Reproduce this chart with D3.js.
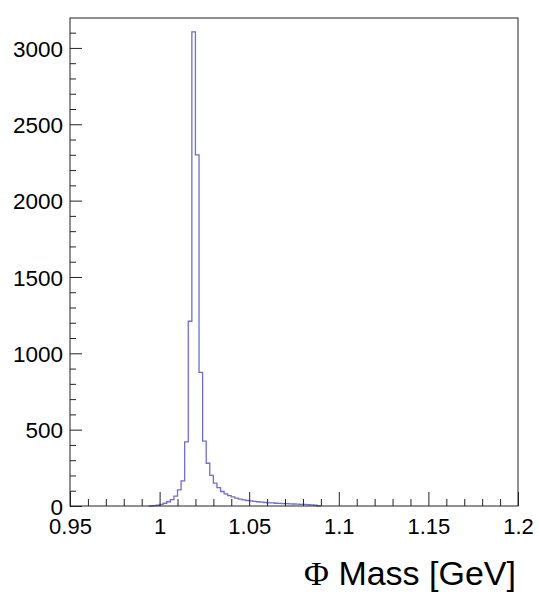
<!DOCTYPE html>
<html><head><meta charset="utf-8">
<script src="https://cdn.jsdelivr.net/npm/d3@7"></script>
<style>body{margin:0;background:#fff}svg{display:block}</style>
</head><body><svg id="c" width="539" height="598"></svg>
<script>
// ---- data ----
const binWidth = 0.002;
const binLowEdges = [0.994,0.996,0.998,1.000,1.002,1.004,1.006,1.008,1.010,1.012,1.014,1.016,1.018,1.020,1.022,1.024,1.026,1.028,1.030,1.032,1.034,1.036,1.038,1.040,1.042,1.044,1.046,1.048,1.050,1.052,1.054,1.056,1.058,1.060,1.062,1.064,1.066,1.068,1.070,1.072,1.074,1.076,1.078,1.080,1.082,1.084,1.086,1.088];
const binCounts   = [0,2,5,10,18,28,42,65,105,165,420,1210,3105,2300,875,425,280,200,150,120,95,80,68,60,52,45,40,36,33,30,28,25,23,21,20,18,17,16,15,14,13,12,11,10,9,7,5,0];
const xTickValues = [0.95,1.0,1.05,1.1,1.15,1.2];
const xTickLabels = ["0.95","1","1.05","1.1","1.15","1.2"];
const yTickValues = [0,500,1000,1500,2000,2500,3000];
const yTickLabels = ["0","500","1000","1500","2000","2500","3000"];
const xDomain = [0.95,1.2];
const yDomain = [0,3196];
const xTitleSymbol = "Φ";
const xTitleText = " Mass [GeV]";

// ---- layout ----
const L = 70, R = 518, T = 18, B = 506;
const svg = d3.select("#c");
const x = d3.scaleLinear().domain(xDomain).range([L, R]);
const y = d3.scaleLinear().domain(yDomain).range([B, T]);
const font = "'Liberation Sans', Arial, Helvetica, sans-serif";

// histogram outline
const pts = [[binLowEdges[0], 0]];
binLowEdges.forEach((e, i) => { pts.push([e, binCounts[i]]); });
pts.push([binLowEdges[binLowEdges.length-1] + binWidth, binCounts[binCounts.length-1]]);
const line = d3.line().x(d => x(d[0])).y(d => y(d[1])).curve(d3.curveStepAfter);
svg.append("path").attr("d", line(pts)).attr("fill", "none")
  .attr("stroke", "#6e6ed2").attr("stroke-width", 1.3);

// axes
const minorX = d3.range(0, 26).map(i => +(xDomain[0] + i*0.01).toFixed(3))
  .filter(v => !xTickValues.some(t => Math.abs(t - v) < 1e-6));
const minorY = d3.range(0, 32).map(i => i*100).filter(v => v % 500 !== 0);

const gxMinor = svg.append("g").attr("transform", `translate(0,${B})`)
  .call(d3.axisBottom(x).tickValues(minorX).tickSize(-7).tickFormat(""));
const gx = svg.append("g").attr("transform", `translate(0,${B})`)
  .call(d3.axisBottom(x).tickValues(xTickValues).tickSize(-14).tickFormat((d,i) => xTickLabels[i]));
gx.selectAll("text").attr("y", 28).attr("dy", null)
  .attr("font-size", 22).attr("font-family", font).attr("fill", "#000");

const gyMinor = svg.append("g").attr("transform", `translate(${L},0)`)
  .call(d3.axisLeft(y).tickValues(minorY).tickSize(-6).tickFormat(""));
const gy = svg.append("g").attr("transform", `translate(${L},0)`)
  .call(d3.axisLeft(y).tickValues(yTickValues).tickSize(-12).tickFormat((d,i) => yTickLabels[i]));
gy.selectAll("text").attr("x", -7).attr("dy", "0.36em")
  .attr("font-size", 22.5).attr("font-family", font).attr("fill", "#000");

[gxMinor, gx, gyMinor, gy].forEach(g => {
  g.select(".domain").remove();
  g.selectAll("line").attr("stroke", "#222").attr("stroke-width", 1);
});

// frame
svg.append("rect").attr("x", L).attr("y", T).attr("width", R - L).attr("height", B - T)
  .attr("fill", "none").attr("stroke", "#222").attr("stroke-width", 1);

// x title
const title = svg.append("text").attr("x", R - 2).attr("y", 585)
  .attr("text-anchor", "end").attr("font-size", 34).attr("font-family", font).attr("fill", "#000");
title.append("tspan").attr("font-family", "'Liberation Serif', 'Times New Roman', serif").text(xTitleSymbol);
title.append("tspan").text(xTitleText);
</script>
</body></html>
